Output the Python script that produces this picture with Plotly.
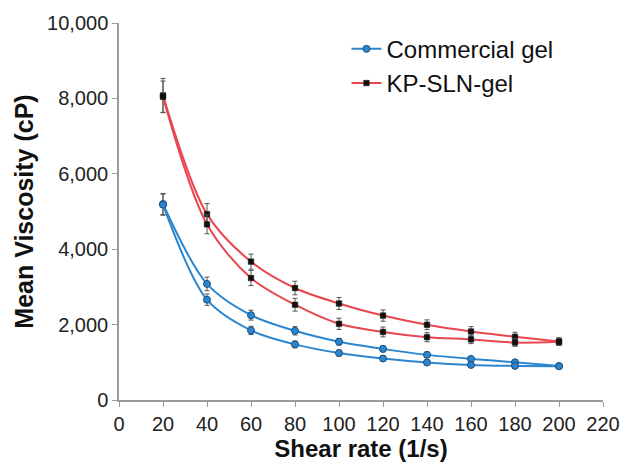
import plotly.graph_objects as go

shear_rate = [20, 40, 60, 80, 100, 120, 140, 160, 180, 200]

commercial_upper = [5200, 3080, 2250, 1835, 1545, 1356, 1197, 1090, 1000, 900]
commercial_lower = [5180, 2660, 1845, 1475, 1245, 1100, 995, 930, 905, 895]
commercial_err_upper = [280, 180, 130, 110, 90, 80, 70, 60, 55, 50]
commercial_err_lower = [280, 150, 110, 90, 80, 70, 60, 55, 50, 50]

kp_upper = [8080, 4930, 3670, 2970, 2560, 2240, 1995, 1817, 1676, 1550]
kp_lower = [8040, 4660, 3235, 2527, 2021, 1805, 1667, 1606, 1524, 1545]
kp_err_upper = [450, 280, 200, 180, 160, 150, 130, 130, 120, 100]
kp_err_lower = [420, 250, 200, 170, 150, 130, 120, 110, 100, 100]

blue = "#2b86cf"
red = "#e8474f"
font_family = "Liberation Sans, Arial, sans-serif"

fig = go.Figure()

def add_series(y, err, color, marker, name, show):
    fig.add_trace(go.Scatter(
        x=shear_rate, y=y, mode="lines+markers", name=name,
        legendgroup=name, showlegend=show,
        line=dict(color=color, width=2, shape="spline", smoothing=0.9),
        marker=marker,
        error_y=dict(type="data", array=err, visible=True,
                     color="#555555", thickness=1, width=2.5),
    ))

blue_marker = dict(symbol="circle", size=7, color=blue,
                   line=dict(color="#1b4f7a", width=1))
red_marker = dict(symbol="square", size=5.5, color="#111111",
                  line=dict(color="#111111", width=0.5))

add_series(commercial_upper, commercial_err_upper, blue, blue_marker, "Commercial gel", True)
add_series(commercial_lower, commercial_err_lower, blue, blue_marker, "Commercial gel", False)
add_series(kp_upper, kp_err_upper, red, red_marker, "KP-SLN-gel", True)
add_series(kp_lower, kp_err_lower, red, red_marker, "KP-SLN-gel", False)

axis_common = dict(
    showgrid=False, zeroline=False, showline=True, linecolor="#9a9a9a", linewidth=1.5,
    ticks="outside", tickcolor="#9a9a9a", ticklen=5, tickwidth=1, automargin=False,
    tickfont=dict(family=font_family, size=20, color="#222222"),
)

fig.update_layout(
    width=622, height=462,
    margin=dict(l=119, r=19, t=23, b=62),
    paper_bgcolor="white", plot_bgcolor="white",
    font=dict(family=font_family, color="#111111"),
    xaxis=dict(range=[0, 220], tickmode="array",
               tickvals=list(range(0, 221, 20)),
               title=dict(text="<b>Shear rate (1/s)</b>", standoff=8,
                          font=dict(family=font_family, size=24, color="#111111")),
               **axis_common),
    yaxis=dict(range=[0, 10000], tickmode="array",
               tickvals=list(range(0, 10001, 2000)), tickformat=",",
               title=dict(text="<b>Mean Viscosity (cP)</b>", standoff=6,
                          font=dict(family=font_family, size=25, color="#111111")),
               **axis_common),
    legend=dict(x=0.47, y=0.99, xanchor="left", yanchor="top",
                bgcolor="rgba(0,0,0,0)", tracegroupgap=0,
                font=dict(family=font_family, size=24, color="#111111"),
                itemwidth=30),
)

fig.write_html("out.html")
